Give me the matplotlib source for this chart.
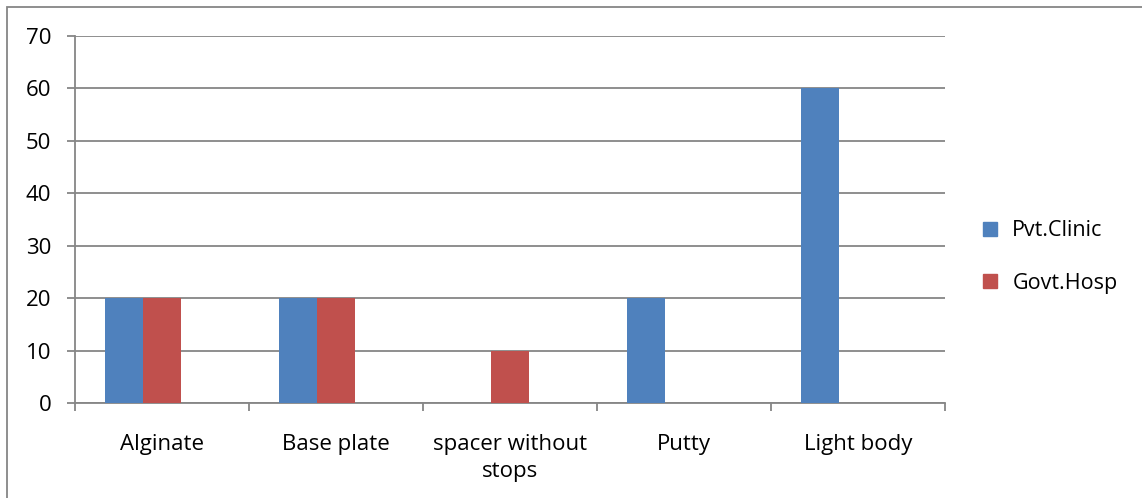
import matplotlib
matplotlib.use("Agg")
import matplotlib.pyplot as plt
import numpy as np
from matplotlib.patches import Rectangle, Patch

categories = ["Alginate", "Base plate", "spacer without\nstops", "Putty", "Light body"]
pvt_clinic = [20, 20, 0, 20, 60]
govt_hosp = [20, 20, 10, 0, 0]
yticks = [0, 10, 20, 30, 40, 50, 60, 70]

plt.rcParams['font.family'] = ['Open Sans', 'DejaVu Sans']

fig = plt.figure(figsize=(11.42, 4.98), dpi=100)
ax = fig.add_axes([75/1142, 1-403/498, (945-75)/1142, (403-36)/498])

x = np.arange(len(categories))
w = 38/174
ax.bar(x - w, pvt_clinic, width=w, align='center', color='#4F81BD', label='Pvt.Clinic', zorder=3)
ax.bar(x, govt_hosp, width=w, align='center', color='#C0504D', label='Govt.Hosp', zorder=3)

ax.set_xlim(-0.5, len(categories) - 0.5)
ax.set_ylim(0, 70)
ax.set_yticks(yticks)
ax.set_yticklabels([str(v) for v in yticks], fontsize=16)
ax.yaxis.grid(True, color='#868686', linewidth=1.3, zorder=0)
ax.set_axisbelow(True)

ax.set_xticks(x)
ax.set_xticklabels(categories, fontsize=16, linespacing=1.4)
ax.tick_params(axis='x', length=0, pad=22)
ax.set_xticks(np.arange(-0.5, len(categories)), minor=True)
ax.tick_params(axis='x', which='minor', length=6, color='#868686', width=1.3)
ax.tick_params(axis='y', length=6, color='#868686', width=1.3, pad=11)

for s in ['top', 'right']:
    ax.spines[s].set_visible(False)
for s in ['left', 'bottom']:
    ax.spines[s].set_color('#868686')
    ax.spines[s].set_linewidth(1.3)

handles = [Patch(color='#4F81BD', label='Pvt.Clinic'), Patch(color='#C0504D', label='Govt.Hosp')]
fig.legend(handles=handles, loc='center left', bbox_to_anchor=(966/1142, 1-257/498),
           frameon=False, fontsize=15.5, handlelength=0.65, handleheight=0.65,
           labelspacing=1.45, handletextpad=0.7, borderpad=0.3)

fig.patches.append(Rectangle((7/1142, -0.01), 1.2, 1.0 - 7/498 + 0.01, transform=fig.transFigure,
                             fill=False, edgecolor='#868686', linewidth=1.3))

fig.savefig('out.png', dpi=100)
